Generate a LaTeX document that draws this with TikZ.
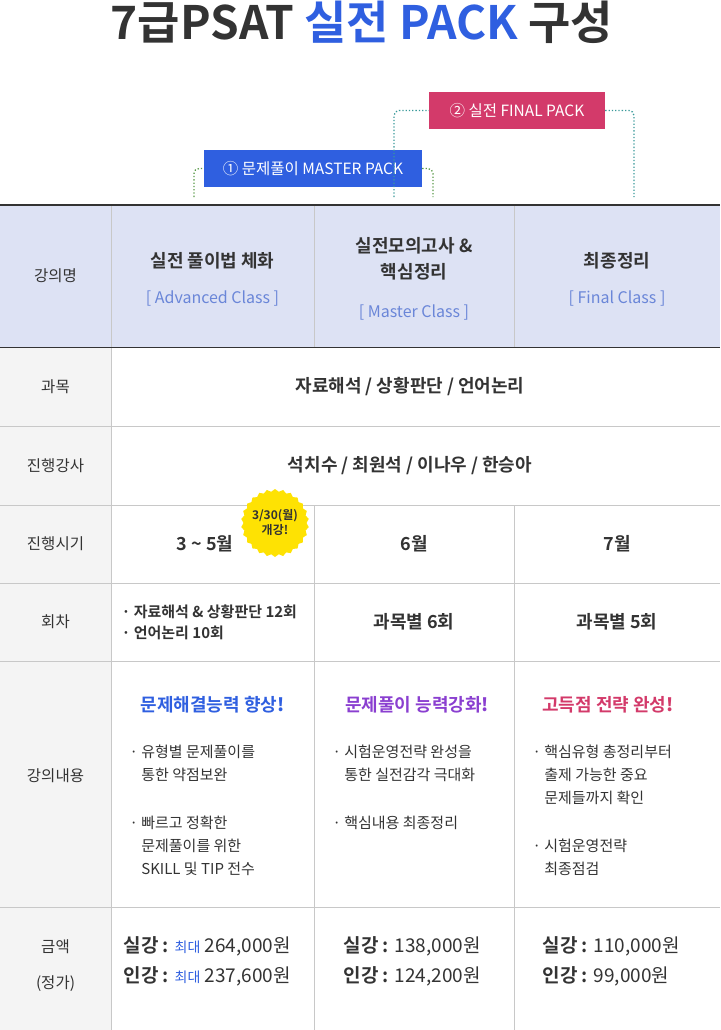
\documentclass[tikz,border=0pt]{standalone}
\usepackage{fontspec}
\setmainfont{Noto Sans CJK KR}[BoldFont={Noto Sans CJK KR Bold}]
\usetikzlibrary{shapes.geometric}
\definecolor{ink}{HTML}{333333}
\definecolor{packblue}{HTML}{2F5FE0}
\definecolor{packred}{HTML}{D33A6A}
\definecolor{headbg}{HTML}{DDE2F4}
\definecolor{leftbg}{HTML}{F4F4F4}
\definecolor{gridgray}{HTML}{C8C8C8}
\definecolor{subblue}{HTML}{6A86D8}
\definecolor{purple}{HTML}{8A3FD0}
\definecolor{dotteal}{HTML}{3A9A9A}
\definecolor{dotgreen}{HTML}{5A9A4A}
\newcommand{\ind}{\phantom{· }}
\tikzset{
  badge/.style={text=white, font=\fontsize{15.5}{18}\selectfont, minimum height=37pt, inner xsep=6pt},
  rowlabel/.style={text=ink, font=\fontsize{15.5}{18}\selectfont},
  cell/.style={text=ink, font=\bfseries\fontsize{18}{22}\selectfont, align=center},
  bullet/.style={text=ink, font=\fontsize{15}{23}\selectfont, align=left, anchor=north west},
  headline/.style={font=\bfseries\fontsize{18}{22}\selectfont},
  dotline/.style={dotted, line width=1.3pt, rounded corners=5pt}
}
\begin{document}
\begin{tikzpicture}[x=1pt,y=-1pt]
  \useasboundingbox (0,0) rectangle (720,1030);
  % backgrounds
  \fill[headbg] (0,204) rectangle (720,347);
  \fill[leftbg] (0,347) rectangle (111,1030);
  % grid
  \foreach \y in {426,505,583,661,907}
    \draw[gridgray] (0,\y) -- (720,\y);
  \draw[gridgray] (111,204) -- (111,1030);
  \foreach \x in {314,514} {
    \draw[gridgray] (\x,204) -- (\x,347);
    \draw[gridgray] (\x,505) -- (\x,1030);
  }
  \draw[ink, line width=2pt] (0,205) -- (720,205);
  \draw[ink, line width=1.5pt] (0,347.5) -- (720,347.5);
  % title
  \node[text=ink, font=\bfseries\fontsize{46}{50}\selectfont] (title) at (362,22)
    {7급PSAT \textcolor{packblue}{실전 PACK} 구성};
  % packs
  \node[badge, fill=packred, minimum width=176pt] (finalpack) at (517,110.5) {② 실전 FINAL PACK};
  \node[badge, fill=packblue, minimum width=218pt] (masterpack) at (313,168.5) {① 문제풀이 MASTER PACK};
  \coordinate (fl) at (394,197);
  \coordinate (fr) at (634,197);
  \coordinate (ml) at (194,197);
  \coordinate (mr) at (433,197);
  \draw[dotteal, dotline] (fl) |- (finalpack.west);
  \draw[dotteal, dotline] (finalpack.east) -| (fr);
  \draw[dotgreen, dotline] (ml) |- (masterpack.west);
  \draw[dotgreen, dotline] (masterpack.east) -| (mr);
  % header row
  \node[rowlabel] (h0) at (55.5,276) {강의명};
  \node[cell] (h1) at (212.5,261) {실전 풀이법 체화};
  \node[text=subblue, font=\fontsize{16}{19}\selectfont] (h1s) at (212.5,298) {[ Advanced Class ]};
  \node[cell, font=\bfseries\fontsize{18}{26}\selectfont] (h2) at (414,259) {실전모의고사 \&\\핵심정리};
  \node[text=subblue, font=\fontsize{16}{19}\selectfont] (h2s) at (414,312) {[ Master Class ]};
  \node[cell] (h3) at (617,261) {최종정리};
  \node[text=subblue, font=\fontsize{16}{19}\selectfont] (h3s) at (617,298) {[ Final Class ]};
  % rows
  \node[rowlabel] (r1) at (55.5,386.5) {과목};
  \node[cell] (r1c) at (410,386.5) {자료해석 / 상황판단 / 언어논리};
  \node[rowlabel] (r2) at (55.5,465.5) {진행강사};
  \node[cell] (r2c) at (410,465.5) {석치수 / 최원석 / 이나우 / 한승아};
  \node[rowlabel] (r3) at (55.5,544) {진행시기};
  \node[cell] (r3a) at (205,544) {3 \textasciitilde{} 5월};
  \node[cell] (r3b) at (414,544) {6월};
  \node[cell] (r3c) at (617,544) {7월};
  \node[star, star points=26, star point ratio=1.08, fill=yellow!85!orange, minimum size=68pt, inner sep=0pt] (burst) at (275,523) {};
  \node[text=ink, font=\bfseries\fontsize{12}{15}\selectfont, align=center] at (burst) {3/30(월)\\개강!};
  \node[rowlabel] (r4) at (55.5,622) {회차};
  \node[text=ink, font=\bfseries\fontsize{15}{21}\selectfont, align=left, anchor=west] (r4a) at (118,622)
    {· 자료해석 \& 상황판단 12회\\· 언어논리 10회};
  \node[cell] (r4b) at (414,622) {과목별 6회};
  \node[cell] (r4c) at (617,622) {과목별 5회};
  \node[rowlabel] (r5) at (55.5,776) {강의내용};
  \node[headline, text=packblue] (r5a) at (212.5,705) {문제해결능력 향상\textit{!}};
  \node[headline, text=purple] (r5b) at (417,705) {문제풀이 능력강화\textit{!}};
  \node[headline, text=packred] (r5c) at (608,705) {고득점 전략 완성\textit{!}};
  \node[bullet] (r5al) at (126,741) {· 유형별 문제풀이를\\\ind 통한 약점보완\\[25pt]· 빠르고 정확한\\\ind 문제풀이를 위한\\\ind SKILL 및 TIP 전수};
  \node[bullet] (r5bl) at (329,741) {· 시험운영전략 완성을\\\ind 통한 실전감각 극대화\\[25pt]· 핵심내용 최종정리};
  \node[bullet] (r5cl) at (529,741) {· 핵심유형 총정리부터\\\ind 출제 가능한 중요\\\ind 문제들까지 확인\\[25pt]· 시험운영전략\\\ind 최종점검};
  \node[rowlabel, align=center, font=\fontsize{15.5}{36}\selectfont] (r6) at (55.5,966) {금액\\(정가)};
  \node[text=ink, font=\fontsize{19}{30}\selectfont, align=left, anchor=west] (r6a) at (120,961)
    {\textbf{실강 :} {\fontsize{14}{16}\selectfont\textcolor{packblue}{최대}} 264,000원\\\textbf{인강 :} {\fontsize{14}{16}\selectfont\textcolor{packblue}{최대}} 237,600원};
  \node[text=ink, font=\fontsize{19}{30}\selectfont, align=left, anchor=west] (r6b) at (340,961)
    {\textbf{실강 :} 138,000원\\\textbf{인강 :} 124,200원};
  \node[text=ink, font=\fontsize{19}{30}\selectfont, align=left, anchor=west] (r6c) at (539,961)
    {\textbf{실강 :} 110,000원\\\textbf{인강 :} 99,000원};
\end{tikzpicture}
\end{document}
